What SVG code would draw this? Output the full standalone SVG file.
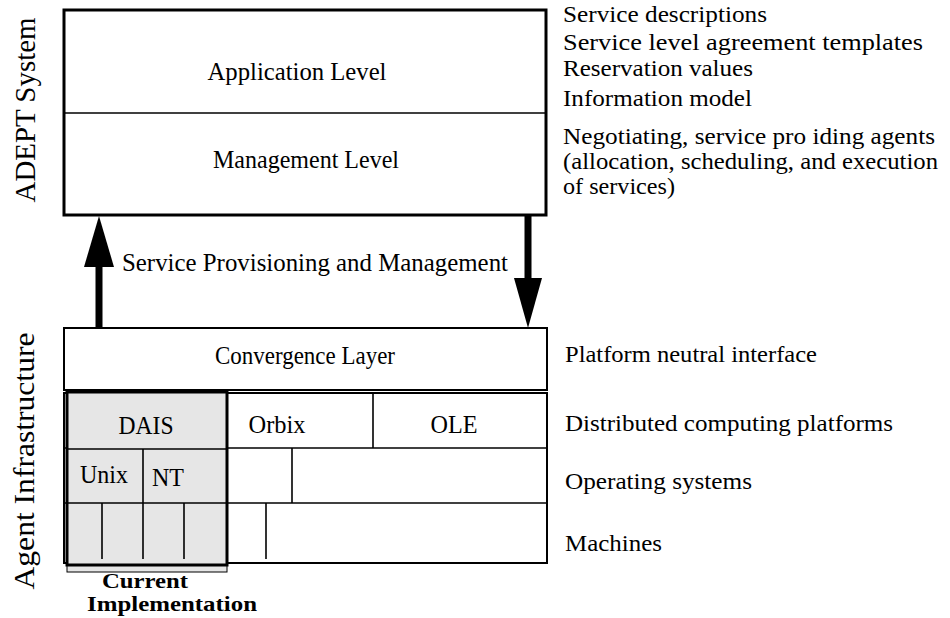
<svg xmlns="http://www.w3.org/2000/svg" width="950" height="618" viewBox="0 0 950 618" font-family="'Liberation Serif', 'Times New Roman', Times, serif">
  <style>
    text { font-family: "Liberation Serif", "Times New Roman", Times, serif; fill: #000; }
    .lbl { font-size: 25px; }
    .note { font-size: 24px; }
    .mid { text-anchor: middle; }
    .side { font-size: 29px; text-anchor: middle; }
    .bold { font-weight: bold; font-size: 21px; text-anchor: middle; }
    .thick { fill: none; stroke: #000; stroke-width: 3; }
    .box { fill: #fff; stroke: #000; stroke-width: 2; }
    .line { stroke: #000; stroke-width: 1.6; fill: none; }
    .gray { fill: #e6e6e6; }
    .arrow { fill: #000; stroke: none; }
  </style>

  <!-- side labels -->
  <g id="label-adept">
    <text class="side" transform="translate(35,110) rotate(-90)" textLength="185" lengthAdjust="spacingAndGlyphs">ADEPT System</text>
  </g>
  <g id="label-infra">
    <text class="side" transform="translate(34,461) rotate(-90)" textLength="257" lengthAdjust="spacingAndGlyphs">Agent Infrastructure</text>
  </g>

  <!-- ADEPT system box -->
  <g id="adept-system">
    <rect x="64" y="10" width="482" height="205" fill="#fff" stroke="#000" stroke-width="3"/>
    <line class="line" x1="64" y1="113" x2="546" y2="113"/>
    <g id="application-level">
      <text class="lbl mid" x="297" y="80" textLength="179" lengthAdjust="spacingAndGlyphs">Application Level</text>
    </g>
    <g id="management-level">
      <text class="lbl mid" x="306" y="168" textLength="186" lengthAdjust="spacingAndGlyphs">Management Level</text>
    </g>
  </g>

  <!-- connectors -->
  <g id="connectors">
    <rect class="arrow" x="95.5" y="265" width="7" height="65"/>
    <polygon class="arrow" points="99,216 84,267 114,267"/>
    <rect class="arrow" x="524.5" y="215" width="7" height="65"/>
    <polygon class="arrow" points="514,278 542,278 528,328"/>
    <text class="lbl" x="122" y="271" textLength="386" lengthAdjust="spacingAndGlyphs">Service Provisioning and Management</text>
  </g>

  <!-- Convergence layer -->
  <g id="convergence-layer">
    <rect class="box" x="64" y="328" width="483" height="62"/>
    <text class="lbl mid" x="305" y="364" textLength="180" lengthAdjust="spacingAndGlyphs">Convergence Layer</text>
  </g>

  <!-- Platforms grid -->
  <g id="platforms">
    <rect class="box" x="64" y="393" width="483" height="170"/>
    <line class="line" x1="64" y1="448" x2="547" y2="448"/>
    <line class="line" x1="64" y1="503" x2="547" y2="503"/>
    <line class="line" x1="373" y1="393" x2="373" y2="448"/>
    <line class="line" x1="292" y1="448" x2="292" y2="503"/>
    <line class="line" x1="266" y1="503" x2="266" y2="559"/>
    <g id="orbix">
      <text class="lbl mid" x="277" y="433" textLength="57" lengthAdjust="spacingAndGlyphs">Orbix</text>
    </g>
    <g id="ole">
      <text class="lbl mid" x="454" y="433" textLength="47" lengthAdjust="spacingAndGlyphs">OLE</text>
    </g>
  </g>

  <!-- Current implementation (gray) -->
  <g id="current-implementation">
    <text class="bold" x="145" y="588" textLength="86" lengthAdjust="spacingAndGlyphs">Current</text>
    <text class="bold" x="172" y="611" textLength="170" lengthAdjust="spacingAndGlyphs">Implementation</text>
    <rect class="gray" x="67" y="392" width="160" height="180" stroke="#000" stroke-width="1"/>
    <line class="line" x1="67" y1="449" x2="227" y2="449"/>
    <line class="line" x1="67" y1="503" x2="227" y2="503"/>
    <line class="line" x1="143" y1="449" x2="143" y2="503"/>
    <line class="line" x1="102" y1="503" x2="102" y2="559"/>
    <line class="line" x1="143" y1="503" x2="143" y2="559"/>
    <line class="line" x1="184" y1="503" x2="184" y2="559"/>
    <rect class="thick" x="67" y="392" width="160" height="173"/>
    <g id="dais">
      <text class="lbl mid" x="146" y="434" textLength="55" lengthAdjust="spacingAndGlyphs">DAIS</text>
    </g>
    <g id="unix">
      <text class="lbl mid" x="104" y="483" textLength="48" lengthAdjust="spacingAndGlyphs">Unix</text>
    </g>
    <g id="nt">
      <text class="lbl mid" x="168" y="486" textLength="32" lengthAdjust="spacingAndGlyphs">NT</text>
    </g>
  </g>

  <!-- right annotations -->
  <g id="annotations">
    <text class="note" x="563" y="22" textLength="204" lengthAdjust="spacingAndGlyphs">Service descriptions</text>
    <text class="note" x="563" y="50" textLength="360" lengthAdjust="spacingAndGlyphs">Service level agreement templates</text>
    <text class="note" x="563" y="76" textLength="190" lengthAdjust="spacingAndGlyphs">Reservation values</text>
    <text class="note" x="563" y="106" textLength="189" lengthAdjust="spacingAndGlyphs">Information model</text>
    <text class="note" x="563" y="144" textLength="372" lengthAdjust="spacingAndGlyphs">Negotiating, service pro iding agents</text>
    <text class="note" x="563" y="169" textLength="375" lengthAdjust="spacingAndGlyphs">(allocation, scheduling, and execution</text>
    <text class="note" x="563" y="194" textLength="112" lengthAdjust="spacingAndGlyphs">of services)</text>
    <text class="note" x="565" y="362" textLength="252" lengthAdjust="spacingAndGlyphs">Platform neutral interface</text>
    <text class="note" x="565" y="431" textLength="328" lengthAdjust="spacingAndGlyphs">Distributed computing platforms</text>
    <text class="note" x="565" y="489" textLength="187" lengthAdjust="spacingAndGlyphs">Operating systems</text>
    <text class="note" x="565" y="551" textLength="97" lengthAdjust="spacingAndGlyphs">Machines</text>
  </g>
</svg>
